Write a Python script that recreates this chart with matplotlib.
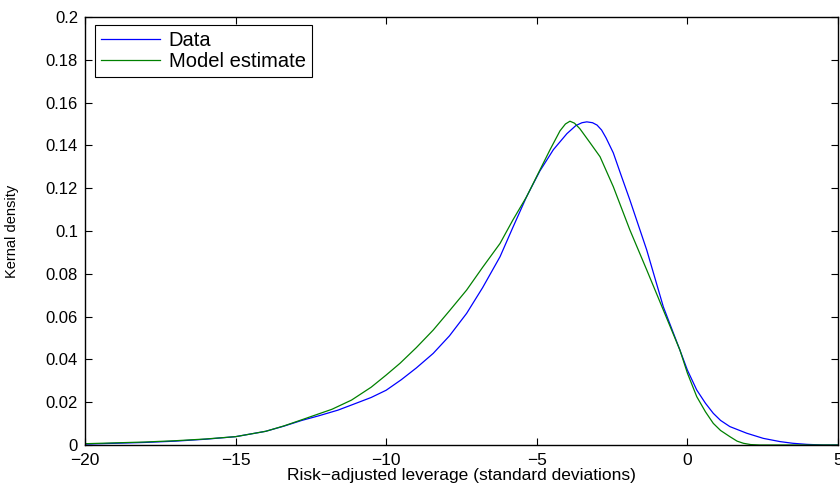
import matplotlib
matplotlib.use('Agg')
import matplotlib.pyplot as plt

plt.rcParams['font.family'] = ['Liberation Sans', 'DejaVu Sans']

# Data (blue) kernel density
data_x = [-20, -18, -17, -16, -15, -14, -13.4, -12.8, -12.25, -11.6, -11.15,
          -10.5, -10.0, -9.5, -9.0, -8.44, -7.9, -7.33, -6.8, -6.22, -5.8,
          -5.34, -4.9, -4.45, -4.0, -3.7, -3.5, -3.34, -3.15, -3.0, -2.85,
          -2.7, -2.46, -2.2, -1.91, -1.35, -0.8, -0.25, 0.0, 0.31, 0.6, 0.86,
          1.1, 1.41, 1.97, 2.52, 3.07, 3.5, 3.96, 4.5, 5.0]
data_y = [0.0004, 0.0012, 0.0018, 0.0027, 0.0039, 0.0064, 0.0088, 0.0115,
          0.0136, 0.0163, 0.0187, 0.0222, 0.0256, 0.0305, 0.0360, 0.0428,
          0.0510, 0.0615, 0.0735, 0.0880, 0.1015, 0.1160, 0.1280, 0.1380,
          0.1455, 0.1493, 0.1506, 0.1510, 0.1506, 0.1495, 0.1472, 0.1435,
          0.1365, 0.1260, 0.1145, 0.0911, 0.0646, 0.0444, 0.0350, 0.0257,
          0.0195, 0.0148, 0.0115, 0.0086, 0.0055, 0.0031, 0.0016, 0.0008,
          0.0003, 0.0, 0.0]

# Model estimate (green)
model_x = [-20, -18, -17, -16, -15, -14, -13.4, -12.8, -12.25, -11.8, -11.15,
           -10.5, -10.0, -9.54, -9.0, -8.44, -7.9, -7.33, -6.8, -6.22, -5.8,
           -5.34, -4.95, -4.56, -4.23, -4.05, -3.9, -3.75, -3.57, -3.23, -2.9,
           -2.46, -1.91, -1.35, -0.8, -0.25, 0.0, 0.31, 0.6, 0.86, 1.1, 1.41,
           1.65, 1.86, 2.1, 2.4, 5.0]
model_y = [0.0006, 0.0014, 0.0020, 0.0028, 0.0039, 0.0064, 0.0089, 0.0118,
           0.0145, 0.0167, 0.0210, 0.0270, 0.0327, 0.0382, 0.0455, 0.0537,
           0.0627, 0.0724, 0.0830, 0.0942, 0.1050, 0.1160, 0.1270, 0.1380,
           0.1468, 0.1500, 0.1513, 0.1504, 0.1478, 0.1412, 0.1347, 0.1207,
           0.1005, 0.0818, 0.0631, 0.0444, 0.0336, 0.0226, 0.0155, 0.0101,
           0.0068, 0.0039, 0.0018, 0.0008, 0.0002, 0.0, 0.0]

xticks = [-20, -15, -10, -5, 0, 5]
xtick_labels = ['\u221220', '\u221215', '\u221210', '\u22125', '0', '5']
yticks = [0, 0.02, 0.04, 0.06, 0.08, 0.1, 0.12, 0.14, 0.16, 0.18, 0.2]
ytick_labels = ['0', '0.02', '0.04', '0.06', '0.08', '0.1', '0.12', '0.14',
                '0.16', '0.18', '0.2']

fig = plt.figure(figsize=(8.4, 4.84), dpi=100)
ax = fig.add_axes([85 / 840, 1 - 445 / 484, 753 / 840, 428 / 484])

ax.plot(data_x, data_y, color=(0, 0, 1), lw=0.9, label='Data')
ax.plot(model_x, model_y, color=(0, 0.5, 0), lw=0.9, label='Model estimate')

ax.set_xlim(-20, 5)
ax.set_ylim(0, 0.2)
ax.set_xticks(xticks)
ax.set_xticklabels(xtick_labels)
ax.set_yticks(yticks)
ax.set_yticklabels(ytick_labels)
ax.tick_params(direction='in', length=5, width=0.8, top=True, right=True,
               colors='black')
ax.tick_params(axis='x', pad=5.5, labelsize=12.5)
ax.tick_params(axis='y', pad=5, labelsize=12)
for s in ax.spines.values():
    s.set_linewidth(1.0)

ax.set_xlabel('Risk\u2212adjusted leverage (standard deviations)', fontsize=12.5)
ax.xaxis.set_label_coords(0.5, -0.054)
ax.set_ylabel('Kernal density', fontsize=10.5)
ax.yaxis.set_label_coords(-0.087, 0.5)

leg = ax.legend(loc='upper left', bbox_to_anchor=(10 / 753, 1 - 8 / 428),
                fontsize=14.5, frameon=True, fancybox=False, framealpha=1,
                edgecolor='black', handlelength=2.95, handletextpad=0.4,
                borderpad=0.3, labelspacing=0.12, borderaxespad=0)
leg.get_frame().set_linewidth(0.8)

fig.savefig('out.png', dpi=100)
